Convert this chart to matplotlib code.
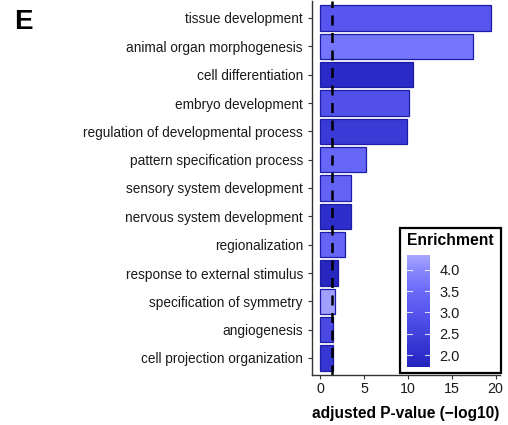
import matplotlib
matplotlib.use("Agg")
import matplotlib.pyplot as plt
import numpy as np
from matplotlib.colors import LinearSegmentedColormap, Normalize
from matplotlib.patches import Rectangle

plt.rcParams['font.family'] = ['Liberation Sans', 'DejaVu Sans']

terms = ["tissue development", "animal organ morphogenesis", "cell differentiation",
         "embryo development", "regulation of developmental process",
         "pattern specification process", "sensory system development",
         "nervous system development", "regionalization", "response to external stimulus",
         "specification of symmetry", "angiogenesis", "cell projection organization"]
pvals = [19.5, 17.4, 10.6, 10.1, 9.9, 5.2, 3.5, 3.5, 2.8, 2.0, 1.7, 1.5, 1.5]
enrich = [3.0, 3.7, 1.9, 2.9, 2.3, 3.4, 3.3, 2.0, 3.35, 1.8, 4.25, 2.7, 2.2]
threshold = 1.301
cb_ticks = [2.0, 2.5, 3.0, 3.5, 4.0]

W, H = 508, 425
fig = plt.figure(figsize=(W/100, H/100), dpi=100)
ax = fig.add_axes([312/W, 1 - 375/H, (500-312)/W, (375-1)/H])

vmin, vmax = 1.72, 4.35
stops = [(1.72, "#2424bc"), (2.0, "#2e2ecc"), (2.5, "#4242dc"), (3.0, "#5656ee"),
         (3.5, "#6a6afa"), (4.0, "#8888ff"), (4.35, "#a8a8ff")]
cmap = LinearSegmentedColormap.from_list(
    "enr", [((v - vmin) / (vmax - vmin), c) for v, c in stops])
norm = Normalize(vmin=vmin, vmax=vmax)

y = np.arange(len(terms))
ax.barh(y, pvals, height=0.9, color=cmap(norm(enrich)), edgecolor="#1c1ca6", linewidth=0.9)
ax.axvline(threshold, color="black", linestyle=(0, (4, 3)), linewidth=1.8)
ax.set_yticks(y)
ax.set_yticklabels(terms, fontsize=9.85, color="#1a1a1a")
ax.set_ylim(len(terms) - 0.4, -0.6)
ax.set_xlim(-0.95, 20.5)
ax.set_xticks([0, 5, 10, 15, 20])
ax.tick_params(axis='x', labelsize=10.3, colors="#333333", labelcolor="#1a1a1a", length=3, width=0.8, pad=2)
ax.tick_params(axis='y', colors="#333333", labelcolor="#1a1a1a", length=3, width=0.8)
for s in ["top", "right"]:
    ax.spines[s].set_visible(False)
for s in ["left", "bottom"]:
    ax.spines[s].set_color("#333333")
    ax.spines[s].set_linewidth(1.0)
ax.set_xlabel("adjusted P-value (\u2212log10)", fontsize=11.2, fontweight="bold", labelpad=7)

fig.text(14/W, 1 - 22/H, "E", fontsize=20, fontweight="bold", va="center", ha="left")

# legend box
box = Rectangle((400/W, 1 - 373/H), (501-400)/W, (373-228)/H, transform=fig.transFigure,
                fill=True, facecolor="white", edgecolor="black", linewidth=1.6, zorder=5)
fig.add_artist(box)
fig.text(407/W, 1 - 241/H, "Enrichment", fontsize=11.3, fontweight="bold", va="center", ha="left", zorder=6)
cax = fig.add_axes([407/W, 1 - 367/H, (430-407)/W, (367-255)/H], zorder=7)
grad = np.linspace(vmin, vmax, 256).reshape(-1, 1)
cax.imshow(grad, aspect="auto", cmap=cmap, norm=norm, origin="lower",
           extent=[0, 1, vmin, vmax])
cax.set_xlim(0, 1)
cax.set_ylim(vmin, vmax)
cax.set_xticks([])
cax.set_yticks(cb_ticks)
cax.yaxis.tick_right()
cax.set_yticklabels([f"{t:.1f}" for t in cb_ticks], fontsize=10.5, color="#1a1a1a")
cax.tick_params(axis='y', length=0, pad=7)
for t in cb_ticks:
    cax.plot([0, 0.2], [t, t], color="white", lw=0.8, alpha=0.8)
    cax.plot([0.8, 1], [t, t], color="white", lw=0.8, alpha=0.8)
for s in cax.spines.values():
    s.set_visible(False)

fig.savefig("out.png", dpi=100)
